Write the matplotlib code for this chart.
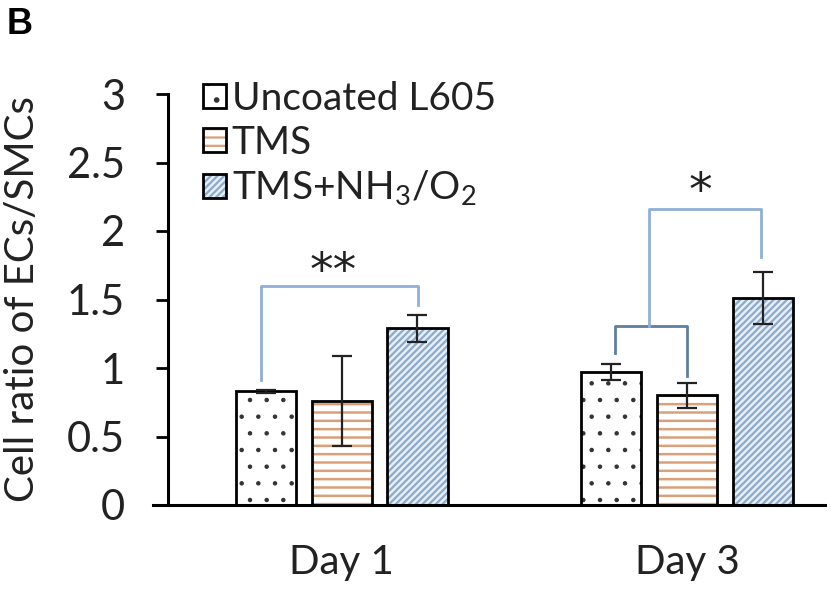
import matplotlib
matplotlib.use('Agg')
import matplotlib.pyplot as plt
import numpy as np
from matplotlib.legend_handler import HandlerTuple

# ---- data ----
days = ['Day 1', 'Day 3']
series = ['Uncoated L605', 'TMS', 'TMS+NH$_\\mathregular{3}$/O$_\\mathregular{2}$']
uncoated = [0.83, 0.97]
uncoated_err = [0.01, 0.06]
tms = [0.76, 0.80]
tms_err = [0.33, 0.09]
tms_nh = [1.29, 1.51]
tms_nh_err = [0.10, 0.19]
yticks = [0, 0.5, 1, 1.5, 2, 2.5, 3]
ytick_labels = ['0', '0.5', '1', '1.5', '2', '2.5', '3']

# significance brackets: (x points, y points) in data coords
brackets = [
    ([-0.235, -0.235, 0.22, 0.22], [0.915, 1.60, 1.60, 1.46], '#8fb0d6'),
    ([0.791, 0.791, 1.0, 1.0], [1.11, 1.31, 1.31, 0.94], '#5f7f9f'),
    ([0.89, 0.89, 1.214, 1.214], [1.31, 2.16, 2.16, 1.81], '#8fb0d6'),
]
stars = [(-0.026, 1.70, '**'), (1.038, 2.28, '*')]

plt.rcParams['font.family'] = ['Lato', 'DejaVu Sans']
plt.rcParams['mathtext.fontset'] = 'custom'
plt.rcParams['mathtext.rm'] = 'Lato'

fig = plt.figure(figsize=(8.31, 5.93), dpi=100)
ax = fig.add_axes([168 / 831, 1 - 505 / 593, 657 / 831, 411 / 593])

x = np.arange(len(days))
width = 0.174
step = 0.219
vals = [uncoated, tms, tms_nh]
errs = [uncoated_err, tms_err, tms_nh_err]
hatches = ['.', '--', '/////']
hatch_colors = ['#333333', '#d9a07a', '#8eaacb']
hatch_lw = [0.8, 1.8, 1.6]
faces = ['white', 'white', '#e6eef7']

handles = []
for i in range(3):
    pos = x + (i - 1) * step
    plt.rcParams['hatch.linewidth'] = hatch_lw[i]
    b1 = ax.bar(pos, vals[i], width, color=faces[i], edgecolor=hatch_colors[i],
                hatch=hatches[i], linewidth=0, zorder=2)
    b2 = ax.bar(pos, vals[i], width, facecolor='none', edgecolor='black',
                linewidth=2, zorder=3)
    ax.errorbar(pos, vals[i], yerr=errs[i], fmt='none', ecolor='#222222',
                elinewidth=1.6, capsize=7, capthick=1.6, zorder=4)
    handles.append((b1[0], b2[0]))

for xs, ys, c in brackets:
    ax.plot(xs, ys, color=c, linewidth=2, zorder=1)
for sx, sy, s in stars:
    ax.text(sx, sy, s, ha='center', va='center', fontsize=34, color='#222222',
            family='DejaVu Sans')

ax.set_xlim(-0.504, 1.40)
ax.set_ylim(0, 3)
ax.set_yticks(yticks)
ax.set_yticklabels(ytick_labels)
ax.set_xticks(x)
ax.set_xticklabels(days)
ax.tick_params(axis='y', direction='out', length=9, width=2, pad=22, labelsize=30, labelcolor='#222222')
ax.tick_params(axis='x', length=0, pad=28, labelsize=29, labelcolor='#222222')
for s in ['top', 'right']:
    ax.spines[s].set_visible(False)
ax.spines['left'].set_linewidth(2.2)
ax.spines['bottom'].set_linewidth(2.2)
ax.spines['bottom'].set_bounds(-0.547, 1.40)

ax.set_ylabel('Cell ratio of ECs/SMCs', fontsize=29, color='#222222', va='center')
ax.yaxis.set_label_coords(-0.222, 0.50)

leg = ax.legend(handles, series, handler_map={tuple: HandlerTuple(ndivide=1, pad=0)},
                loc='upper left', bbox_to_anchor=(0.03, 1.07), frameon=False,
                fontsize=28, handlelength=0.58, handleheight=0.58, handletextpad=0.15,
                labelspacing=0.2, borderaxespad=0)
for t in leg.get_texts():
    t.set_color('#222222')

fig.text(7 / 831, 1 - 34 / 593, 'B', fontsize=26, fontweight='bold',
         family='Liberation Sans', ha='left', va='baseline')

fig.savefig('out.png', dpi=100)
